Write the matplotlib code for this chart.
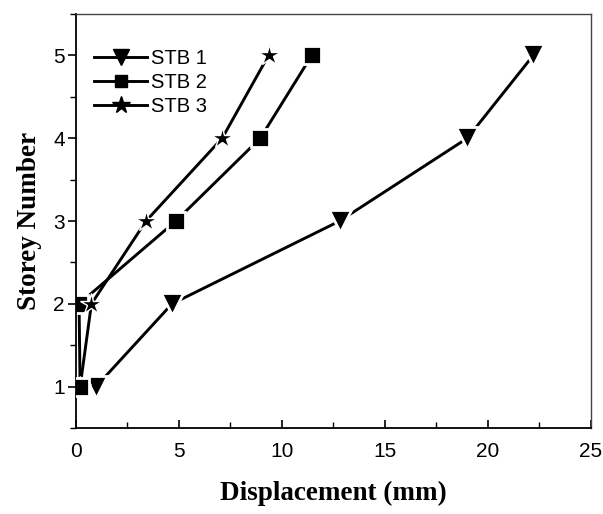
import matplotlib
matplotlib.use("Agg")
import matplotlib.pyplot as plt
from matplotlib.ticker import MultipleLocator
from matplotlib.lines import Line2D

# storey numbers and displacements (mm)
storeys = [1, 2, 3, 4, 5]
stb1 = [0.97, 4.66, 12.8, 19.0, 22.2]
stb2 = [0.2, 0.15, 4.85, 8.95, 11.45]
stb3 = [0.2, 0.75, 3.4, 7.1, 9.35]
names = ["STB 1", "STB 2", "STB 3"]
markers = ["v", "s", "*"]
sizes = [12, 9, 14]
gaps = [2, 2, 1]
layers = [3, 2, 4]

plt.rcParams['font.family'] = ['Liberation Sans', 'DejaVu Sans']

fig = plt.figure(figsize=(6.03, 5.14), dpi=100)
ax = fig.add_axes([0.126, 0.167, 0.854, 0.806])

handles = []
for xs, name, m, s, g, z in zip([stb1, stb2, stb3], names, markers, sizes, gaps, layers):
	ax.plot(xs, storeys, color='black', lw=2.1, marker=m, ms=s + 2 * g,
		mfc='black', mec='white', mew=g, zorder=z)
	handles.append(Line2D([], [], color='black', lw=2.1, marker=m, ms=s - 1,
		mfc='black', mec='black', label=name))
# square at storey 1 sits on top of the star in the original
ax.plot(stb2[:1], storeys[:1], ls='none', marker='s', ms=sizes[1] + 4,
	mfc='black', mec='white', mew=2, zorder=5)

ax.set_xlim(0, 25)
ax.set_ylim(0.5, 5.5)
ax.xaxis.set_major_locator(MultipleLocator(5))
ax.xaxis.set_minor_locator(MultipleLocator(2.5))
ax.yaxis.set_major_locator(MultipleLocator(1))
ax.yaxis.set_minor_locator(MultipleLocator(0.5))
ax.tick_params(axis='x', which='both', direction='in', labelsize=15, pad=10)
ax.tick_params(axis='x', which='major', length=6, width=1.2)
ax.tick_params(axis='x', which='minor', length=4, width=1)
ax.tick_params(axis='y', which='both', direction='out', labelsize=15, pad=2)
ax.tick_params(axis='y', which='major', length=6, width=1.2)
ax.tick_params(axis='y', which='minor', length=4, width=1)
for side in ['left', 'bottom']:
	ax.spines[side].set_linewidth(1.3)
for side in ['top', 'right']:
	ax.spines[side].set_linewidth(1.0)
	ax.spines[side].set_color('#444444')

ax.set_xlabel('Displacement (mm)', fontsize=19.5, fontweight='bold',
	family='Liberation Serif', labelpad=14)
ax.set_ylabel('Storey Number', fontsize=19.5, fontweight='bold',
	family='Liberation Serif', labelpad=8)

ax.legend(handles=handles, loc='upper left', frameon=False, fontsize=14.5,
	handlelength=2.6, handletextpad=0.2, labelspacing=0.25, borderaxespad=0.0,
	bbox_to_anchor=(0.02, 0.935))

fig.savefig("out.png", dpi=100)
